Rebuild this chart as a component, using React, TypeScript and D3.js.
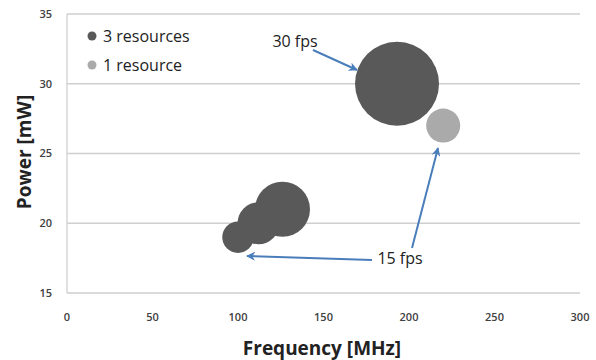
import React from "react";
import * as d3 from "d3";

const xTicks = [0, 50, 100, 150, 200, 250, 300];
const yTicks = [15, 20, 25, 30, 35];

const series3Freq = [100, 112, 126, 193];
const series3Power = [19, 20, 21, 30];
const series3Size = [14, 25, 43, 100];

const series1Freq = [220];
const series1Power = [27];
const series1Size = [16.4];

const seriesNames = ["3 resources", "1 resource"];
const seriesColors = ["#595959", "#aaaaaa"];

const W = 596;
const H = 360;
const M = { left: 67, right: 16, top: 14, bottom: 67 };

export default function App() {
  const x = d3.scaleLinear().domain([0, 300]).range([M.left, W - M.right]);
  const y = d3.scaleLinear().domain([15, 35]).range([H - M.bottom, M.top]);
  const r = d3.scaleSqrt().domain([0, 100]).range([0, 42]);
  const font = "'Open Sans', 'Liberation Sans', sans-serif";
  const arrowColor = "#4a7ebb";

  const big = series3Freq.map((f, i) => ({ f, p: series3Power[i], s: series3Size[i] }));
  const light = series1Freq.map((f, i) => ({ f, p: series1Power[i], s: series1Size[i] }));

  return (
    <svg width={W} height={H} style={{ position: "absolute", left: 0, top: 0, background: "#fff" }}>
      <defs>
        <marker id="ah" viewBox="0 0 10 10" refX="9" refY="5" markerWidth="9" markerHeight="9" orient="auto-start-reverse" markerUnits="userSpaceOnUse">
          <path d="M0,0 L10,5 L0,10 L3,5 Z" fill={arrowColor} />
        </marker>
      </defs>
      {yTicks.map((t) => (
        <g key={"y" + t}>
          <line x1={M.left} x2={W - M.right} y1={y(t)} y2={y(t)} stroke="#cfcfcf" strokeWidth={1.3} />
          <text x={52} y={y(t)} dy="0.35em" textAnchor="end" fontSize={11} fontWeight={600} fill="#404040" fontFamily={font}>{t}</text>
        </g>
      ))}
      <line x1={M.left} x2={M.left} y1={M.top} y2={H - M.bottom} stroke="#cfcfcf" strokeWidth={1.3} />
      {xTicks.map((t) => (
        <text key={"x" + t} x={x(t)} y={317} dy="0.35em" textAnchor="middle" fontSize={11} fontWeight={600} fill="#404040" fontFamily={font}>{t}</text>
      ))}
      {[...big].sort((a, b) => b.s - a.s).map((d, i) => (
        <circle key={"b" + i} cx={x(d.f)} cy={y(d.p)} r={r(d.s)} fill={seriesColors[0]} />
      ))}
      {light.map((d, i) => (
        <circle key={"l" + i} cx={x(d.f)} cy={y(d.p)} r={r(d.s)} fill={seriesColors[1]} />
      ))}
      {/* legend */}
      <circle cx={92} cy={36} r={4.5} fill={seriesColors[0]} />
      <text x={103} y={36} dy="0.35em" fontSize={16} fill="#222" fontFamily={font}>{seriesNames[0]}</text>
      <circle cx={92} cy={65} r={4.5} fill={seriesColors[1]} />
      <text x={103} y={65} dy="0.35em" fontSize={16} fill="#222" fontFamily={font}>{seriesNames[1]}</text>
      {/* annotations */}
      <text x={295} y={41} dy="0.35em" textAnchor="middle" fontSize={16} fill="#222" fontFamily={font}>30 fps</text>
      <line x1={313} y1={50} x2={357} y2={70} stroke={arrowColor} strokeWidth={2} markerEnd="url(#ah)" />
      <text x={400} y={258} dy="0.35em" textAnchor="middle" fontSize={16} fill="#222" fontFamily={font}>15 fps</text>
      <line x1={372} y1={260} x2={247} y2={256} stroke={arrowColor} strokeWidth={2} markerEnd="url(#ah)" />
      <line x1={412} y1={248} x2={438} y2={148} stroke={arrowColor} strokeWidth={2} markerEnd="url(#ah)" />
      {/* axis titles */}
      <text transform={`translate(24,152) rotate(-90)`} textAnchor="middle" dy="0.35em" fontSize={19} fontWeight={700} fill="#222" fontFamily={font}>Power [mW]</text>
      <text x={322} y={348} dy="0.35em" textAnchor="middle" fontSize={19} fontWeight={700} fill="#222" fontFamily={font}>Frequency [MHz]</text>
    </svg>
  );
}
